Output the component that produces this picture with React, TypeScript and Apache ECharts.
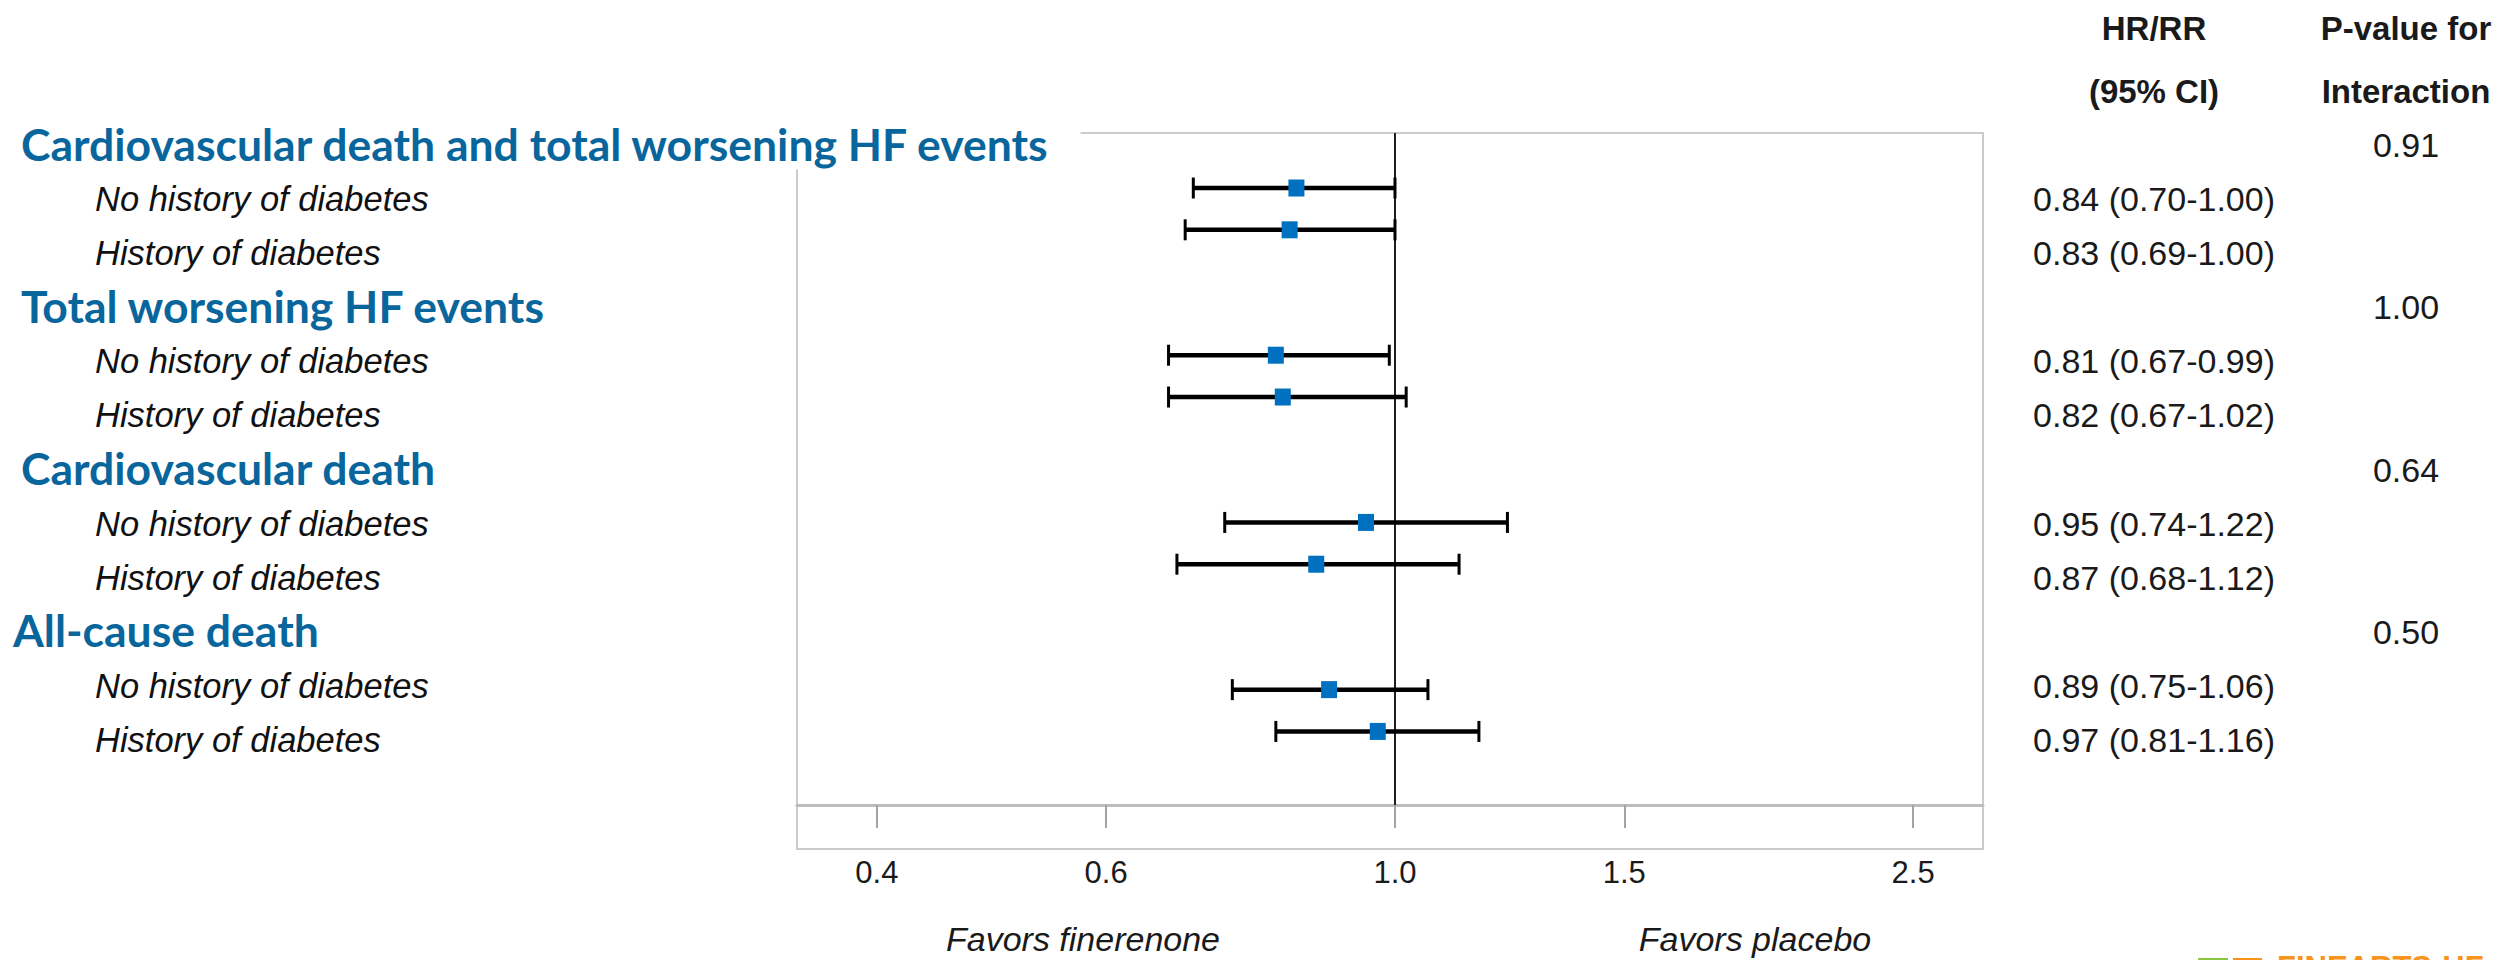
import React, { useEffect, useRef } from "react";
import * as echarts from "echarts";

// ---------- data ----------
const outcomes = [
  "Cardiovascular death and total worsening HF events",
  "Total worsening HF events",
  "Cardiovascular death",
  "All-cause death",
];
const subgroups = ["No history of diabetes", "History of diabetes"];
const pInteraction = ["0.91", "1.00", "0.64", "0.50"];
const hr = [0.84, 0.83, 0.81, 0.82, 0.95, 0.87, 0.89, 0.97];
const ciLow = [0.7, 0.69, 0.67, 0.67, 0.74, 0.68, 0.75, 0.81];
const ciHigh = [1.0, 1.0, 0.99, 1.02, 1.22, 1.12, 1.06, 1.16];
const xTicks = [0.4, 0.6, 1.0, 1.5, 2.5];
const xTickLabels = ["0.4", "0.6", "1.0", "1.5", "2.5"];
const xRange = [0.3473, 2.829];
const headerHR = ["HR/RR", "(95% CI)"];
const headerP = ["P-value for", "Interaction"];
const favors = ["Favors finerenone", "Favors placebo"];

// ---------- derived rows ----------
const leftRows: string[] = [];
const hrRows: string[] = [];
const pRows: string[] = [];
const rowKind: string[] = [];
outcomes.forEach((o, g) => {
  leftRows.push(o);
  hrRows.push("");
  pRows.push(pInteraction[g]);
  rowKind.push(g === outcomes.length - 1 ? "h0" : "h");
  subgroups.forEach((s, r) => {
    const i = g * subgroups.length + r;
    leftRows.push(s);
    hrRows.push(`${hr[i].toFixed(2)} (${ciLow[i].toFixed(2)}-${ciHigh[i].toFixed(2)})`);
    pRows.push("");
    rowKind.push("s");
  });
});
const rowIds = leftRows.map((_, i) => String(i));
const slotOf = (i: number) => Math.floor(i / 2) * 4 + (i % 2);
const ln = Math.log;

const BLUE_HEAD = "#08669d";
const NUM_FONT = "'Liberation Sans', Arial, sans-serif";
const HEAD_FONT = "Lato, 'Open Sans', sans-serif";

export default function App() {
  const ref = useRef<HTMLDivElement>(null);
  useEffect(() => {
    if (!ref.current) return;
    const chart = echarts.init(ref.current, undefined, { renderer: "svg" });
    const gridBox = { left: 797, right: 534 };
    const option: any = {
      animation: false,
      backgroundColor: "#ffffff",
      grid: [
        { ...gridBox, top: 133, bottom: 155, show: false },
        { ...gridBox, top: 145, bottom: 220, show: false },
        { ...gridBox, top: 133, bottom: 111, show: true, borderColor: "#cbcbcb", borderWidth: 2, backgroundColor: "transparent", z: 0 },
      ],
      xAxis: [
        {
          gridIndex: 0,
          type: "value",
          position: "bottom",
          min: ln(xRange[0]),
          max: ln(xRange[1]),
          splitLine: { show: false },
          axisLine: { show: true, onZero: false, lineStyle: { color: "#bdbdbd", width: 3 } },
          axisTick: {
            show: true,
            customValues: xTicks.map(ln),
            length: 23,
            inside: false,
            lineStyle: { color: "#a3a3a3", width: 2 },
          },
          axisLabel: {
            show: true,
            customValues: xTicks.map(ln),
            margin: 52,
            fontSize: 31,
            fontFamily: NUM_FONT,
            color: "#1a1a1a",
            formatter: (v: number) => {
              const k = xTicks.findIndex((t) => Math.abs(ln(t) - v) < 1e-6);
              return k >= 0 ? xTickLabels[k] : "";
            },
          },
        },
        { gridIndex: 1, type: "value", min: 0, max: 1, show: false },
        { gridIndex: 2, type: "value", min: 0, max: 1, show: false },
      ],
      yAxis: [
        { gridIndex: 0, type: "value", inverse: true, min: -1.316, max: 14.76, show: false },
        {
          gridIndex: 1,
          type: "category",
          inverse: true,
          boundaryGap: false,
          position: "left",
          data: rowIds,
          z: 6,
          axisLine: { show: false },
          axisTick: { show: false },
          splitLine: { show: false },
          axisLabel: {
            interval: 0,
            align: "left",
            margin: 784,
            formatter: (v: string) => {
              const i = Number(v);
              return `{${rowKind[i]}|${leftRows[i]}}`;
            },
            rich: {
              h: {
                fontFamily: HEAD_FONT,
                fontWeight: "bold",
                fontSize: 44.5,
                lineHeight: 50,
                color: BLUE_HEAD,
                backgroundColor: "#ffffff",
                padding: [0, 30, 4, 8],
              },
              h0: {
                fontFamily: HEAD_FONT,
                fontWeight: "bold",
                fontSize: 44.5,
                lineHeight: 50,
                color: BLUE_HEAD,
                padding: [0, 0, 4, 0],
              },
              s: {
                fontFamily: NUM_FONT,
                fontStyle: "italic",
                fontSize: 34.5,
                color: "#111111",
                padding: [0, 0, 0, 82],
              },
            },
          },
        },
        {
          gridIndex: 1,
          type: "category",
          inverse: true,
          boundaryGap: false,
          position: "right",
          data: rowIds,
          axisLine: { show: false },
          axisTick: { show: false },
          splitLine: { show: false },
          axisLabel: {
            interval: 0,
            align: "center",
            margin: 171,
            fontSize: 34,
            fontFamily: NUM_FONT,
            color: "#1a1a1a",
            formatter: (v: string) => hrRows[Number(v)],
          },
        },
        {
          gridIndex: 1,
          type: "category",
          inverse: true,
          boundaryGap: false,
          position: "right",
          data: rowIds,
          axisLine: { show: false },
          axisTick: { show: false },
          splitLine: { show: false },
          axisLabel: {
            interval: 0,
            align: "center",
            margin: 423,
            fontSize: 34,
            fontFamily: NUM_FONT,
            color: "#1a1a1a",
            formatter: (v: string) => pRows[Number(v)],
          },
        },
        { gridIndex: 2, type: "value", min: 0, max: 1, show: false },
      ],
      series: [
        {
          type: "custom",
          xAxisIndex: 0,
          yAxisIndex: 0,
          silent: true,
          z: 3,
          encode: { x: [0, 1], y: 2 },
          data: hr.map((_, i) => [ln(ciLow[i]), ln(ciHigh[i]), slotOf(i)]),
          renderItem: (params: any, api: any) => {
            const y = api.value(2);
            const p1 = api.coord([api.value(0), y]);
            const p2 = api.coord([api.value(1), y]);
            const h = 10.5;
            const stroke = "#000000";
            return {
              type: "group",
              children: [
                { type: "line", shape: { x1: p1[0], y1: p1[1], x2: p2[0], y2: p2[1] }, style: { stroke, lineWidth: 4.5 } },
                { type: "line", shape: { x1: p1[0], y1: p1[1] - h, x2: p1[0], y2: p1[1] + h }, style: { stroke, lineWidth: 3 } },
                { type: "line", shape: { x1: p2[0], y1: p2[1] - h, x2: p2[0], y2: p2[1] + h }, style: { stroke, lineWidth: 3 } },
              ],
            };
          },
        },
        {
          type: "scatter",
          xAxisIndex: 0,
          yAxisIndex: 0,
          silent: true,
          z: 4,
          symbol: "rect",
          symbolSize: [16, 17],
          itemStyle: { color: "#0070c0", opacity: 1 },
          data: hr.map((v, i) => [ln(v), slotOf(i)]),
          markLine: {
            silent: true,
            symbol: ["none", "none"],
            label: { show: false },
            lineStyle: { color: "#1e1e1e", width: 2, type: "solid" },
            data: [{ xAxis: 0 }],
            z: 2,
          },
        },
      ],
      graphic: [
        ...headerHR.map((t, k) => ({
          type: "text",
          x: 2154,
          y: 28 + k * 63,
          style: { text: t, fontFamily: NUM_FONT, fontWeight: "bold", fontSize: 33, fill: "#1a1a1a", align: "center", verticalAlign: "middle" },
        })),
        ...headerP.map((t, k) => ({
          type: "text",
          x: 2406,
          y: 28 + k * 63,
          style: { text: t, fontFamily: NUM_FONT, fontWeight: "bold", fontSize: 33, fill: "#1a1a1a", align: "center", verticalAlign: "middle" },
        })),
        ...favors.map((t, k) => ({
          type: "text",
          x: k === 0 ? 1083 : 1755,
          y: 939,
          style: { text: t, fontFamily: NUM_FONT, fontStyle: "italic", fontSize: 34, fill: "#1a1a1a", align: "center", verticalAlign: "middle" },
        })),
        { type: "rect", shape: { x: 2198, y: 958, width: 30, height: 10 }, style: { fill: "#8cc63f" } },
        { type: "rect", shape: { x: 2233, y: 958, width: 29, height: 4 }, style: { fill: "#f7941d" } },
        {
          type: "text",
          x: 2277,
          y: 952,
          style: { text: "FINEARTS-HF", fontFamily: NUM_FONT, fontWeight: "bold", fontSize: 31, fill: "#f7941d", align: "left", verticalAlign: "top" },
        },
      ],
    };
    chart.setOption(option);
    return () => chart.dispose();
  }, []);
  return (
    <div
      ref={ref}
      style={{ position: "fixed", left: 0, top: 0, width: 2517, height: 960, background: "#ffffff" }}
    />
  );
}
